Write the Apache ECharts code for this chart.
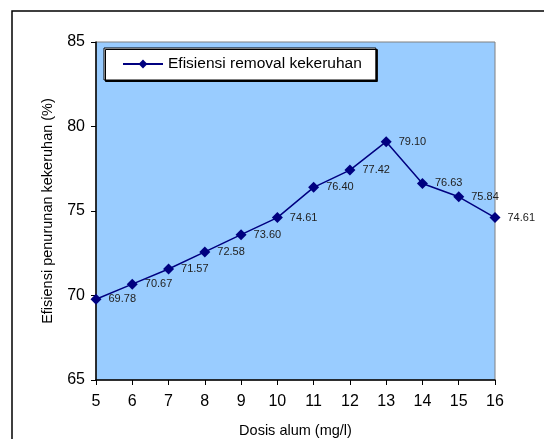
<!DOCTYPE html>
<html>
<head>
<meta charset="utf-8">
<script src="https://cdn.jsdelivr.net/npm/echarts@6/dist/echarts.min.js"></script>
<style>
  html, body { margin: 0; padding: 0; background: #fff; }
  #main { width: 544px; height: 439px; }
</style>
</head>
<body>
<div id="main"></div>
<script>
  // data
  var dosis = [5, 6, 7, 8, 9, 10, 11, 12, 13, 14, 15, 16]
  var efisiensi = [69.78, 70.67, 71.57, 72.58, 73.60, 74.61, 76.40, 77.42, 79.10, 76.63, 75.84, 74.61]
  var seriesName = 'Efisiensi removal kekeruhan'

  var myChart = echarts.init(document.getElementById('main'))

  var points = dosis.map(function (d, i) { return [d, efisiensi[i]] })

  var option = {
    animation: false,
    textStyle: { fontFamily: 'Liberation Sans, Arial, sans-serif' },
    graphic: [{
      type: 'rect',
      shape: { x: 12, y: 11, width: 700, height: 700 },
      style: { fill: null, stroke: '#000', lineWidth: 1.5 },
      silent: true
    }],
    grid: {
      left: 96, top: 42, right: 49, bottom: 59,
      containLabel: false,
      outerBoundsMode: 'none',
      show: true,
      backgroundColor: '#99CCFF',
      borderColor: '#808080',
      borderWidth: 1
    },
    legend: {
      left: 104, top: 48,
      padding: [8, 14, 8, 18],
      backgroundColor: '#fff',
      borderColor: '#000',
      borderWidth: 1,
      shadowColor: '#000',
      shadowOffsetX: 1.5,
      shadowOffsetY: 1.5,
      shadowBlur: 0,
      itemWidth: 40,
      itemHeight: 11,
      itemGap: 5,
      textStyle: { fontSize: 15.5, color: '#000', fontFamily: 'Liberation Sans, Arial, sans-serif' },
      data: [seriesName]
    },
    xAxis: {
      type: 'value',
      min: 5, max: 16, interval: 1,
      name: 'Dosis alum (mg/l)',
      nameLocation: 'middle',
      nameGap: 43,
      nameTextStyle: { fontSize: 14.5, color: '#000' },
      axisLine: { lineStyle: { color: '#000', width: 1.5 } },
      axisTick: { show: true, length: 5, lineStyle: { color: '#000' } },
      axisLabel: { fontSize: 16, color: '#000', margin: 14 },
      splitLine: { show: false }
    },
    yAxis: {
      type: 'value',
      min: 65, max: 85, interval: 5,
      name: 'Efisiensi penurunan kekeruhan (%)',
      nameLocation: 'middle',
      nameGap: 41,
      nameTextStyle: { fontSize: 14.5, color: '#000' },
      axisLine: { show: true, lineStyle: { color: '#000', width: 1.5 } },
      axisTick: { show: true, length: 5, lineStyle: { color: '#000' } },
      axisLabel: { fontSize: 16, color: '#000', margin: 11 },
      splitLine: { show: false }
    },
    series: [{
      name: seriesName,
      type: 'line',
      data: points,
      symbol: 'diamond',
      symbolSize: 11,
      lineStyle: { color: '#000080', width: 1.5 },
      itemStyle: { color: '#000080' },
      label: {
        show: true,
        position: 'right',
        distance: 7,
        fontSize: 11,
        color: '#222',
        formatter: function (p) { return p.value[1].toFixed(2) }
      }
    }]
  }

  myChart.setOption(option)
</script>
</body>
</html>
